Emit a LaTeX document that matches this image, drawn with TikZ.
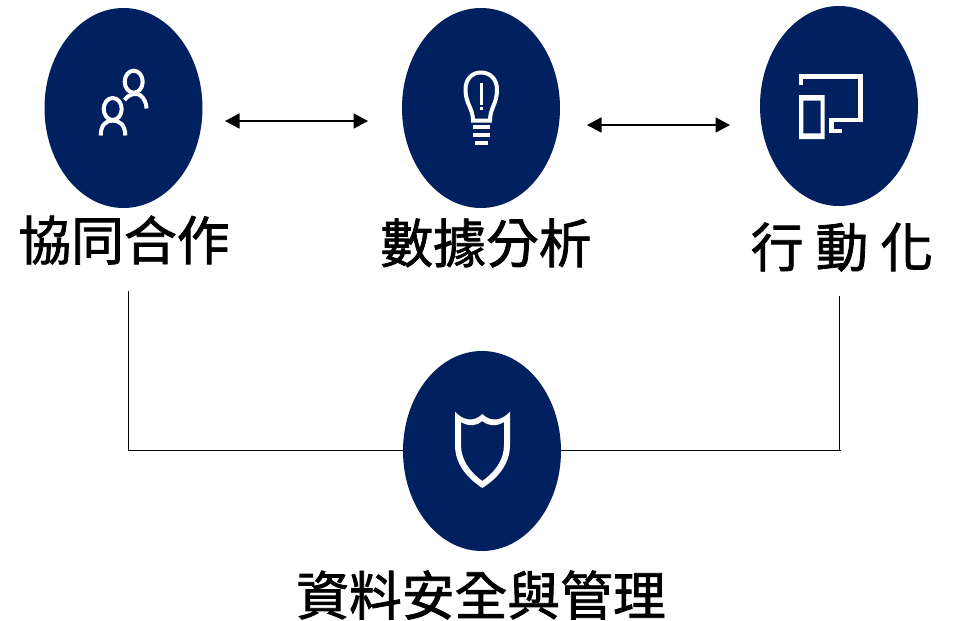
\documentclass[tikz,border=0pt]{standalone}
\usepackage{fontspec}
\usetikzlibrary{shapes.geometric,arrows.meta}
\newfontfamily\cjk[FakeBold=1.5]{Noto Sans CJK TC}
\definecolor{navy}{HTML}{002060}
\tikzset{
  disc/.style={ellipse,fill=navy,minimum width=158pt,minimum height=200pt,inner sep=0pt},
  lbl/.style={font=\cjk\fontsize{52.8}{56}\selectfont,text=black,inner sep=0pt,anchor=center},
  icon/.style={draw=white,line width=4pt,fill=none},
  iconfill/.style={fill=white,draw=none},
  dbl/.style={draw=black,line width=1.7pt,{Triangle[length=14.5pt,width=15pt]}-{Triangle[length=14.5pt,width=15pt]}},
  conn/.style={draw=black,line width=0.8pt}
}
\begin{document}
\begin{tikzpicture}[x=1pt,y=-1pt]
\useasboundingbox (0,0) rectangle (964,621);
\node[disc] (collab) at (123.5,108) {};
\node[disc] (data) at (481,108) {};
\node[disc] (mobile) at (839,106) {};
\node[disc] (secure) at (482,451) {};
\node[lbl] (t1) at (124,240) {協同合作};
\node[lbl] (t2) at (486,243) {數據分析};
\node[lbl] (t3) at (842,247) {行\hspace{12pt}動\hspace{12pt}化};
\node[lbl] (t4) at (481,595) {資料安全與管理};
\coordinate (a1) at (225,121);
\coordinate (a2) at (368,121);
\coordinate (b1) at (587,125);
\coordinate (b2) at (730,125);
\draw[dbl] (a1) -- (a2);
\draw[dbl] (b1) -- (b2);
\coordinate (l1) at (128.7,291);
\coordinate (l2) at (128.7,450);
\coordinate (r1) at (839.3,296);
\coordinate (r2) at (839.3,450);
\coordinate (r3) at (841,450);
\draw[conn] (l1) -- (l2) -- (l2 -| secure.west);
\draw[conn] (r1) -- (r2);
\draw[conn] (r3) -- (r3 -| secure.east);
% people icon
\draw[icon] (133.7,81.7) ellipse [x radius=9,y radius=11];
\draw[icon] (124.5,100) .. controls (130,93) and (136,93) .. (140,95) .. controls (144,98) and (146.5,103) .. (146.5,108.5);
\draw[icon] (112.7,109) ellipse [x radius=9,y radius=11];
\draw[icon] (100.7,135.5) .. controls (100.7,125) and (106,120.5) .. (112.7,120.5) .. controls (119.5,120.5) and (125.3,125) .. (125.3,135.5);
% bulb icon
\draw[icon] (473,120.5) .. controls (473,108) and (465.5,104) .. (465.5,89.5) .. controls (465.5,79) and (472,72.5) .. (481,72.5) .. controls (490,72.5) and (497,79) .. (497,89.5) .. controls (497,104) and (490,108) .. (490,120.5) -- cycle;
\fill[iconfill] (480,83.3) rectangle (483,105);
\fill[iconfill] (480,106.7) rectangle (483,110);
\fill[iconfill] (472.7,125) rectangle (490,129);
\fill[iconfill] (472.7,132.7) rectangle (490,137.3);
\fill[iconfill] (475,141) rectangle (488,145);
% device icon
\draw[icon,line width=4.6pt,miter limit=10] (801,85) -- (801,76.3) -- (860.3,76.3) -- (860.3,120) -- (831.3,120) -- (831.3,131) -- (841.7,131);
\fill[iconfill,even odd rule] (799,95) rectangle (824.7,139) (803.3,100.7) rectangle (820.7,133.3);
% shield icon
\fill[iconfill,even odd rule]
 (455,411.5) .. controls (462,420) and (474,423) .. (482.3,414) .. controls (491,423) and (503,420) .. (510,411.5) -- (510,445) .. controls (510,464) and (498,478) .. (482.3,488) .. controls (467,478) and (455,464) .. (455,445) -- cycle
 (461,422) .. controls (469,427) and (477,426) .. (482.3,421) .. controls (488,426) and (496,427) .. (504,422) -- (504,445) .. controls (504,460) and (495,472) .. (482.3,481) .. controls (470,472) and (461,460) .. (461,445) -- cycle;
\end{tikzpicture}
\end{document}
